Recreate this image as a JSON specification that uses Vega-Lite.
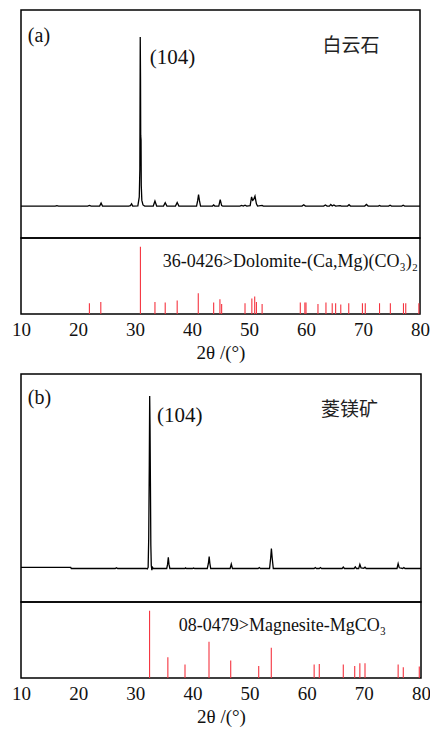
{
  "$schema": "https://vega.github.io/schema/vega-lite/v6.json",
  "background": "white",
  "padding": {"left": 10, "top": 9, "right": 4, "bottom": 0},
  "config": {
    "font": "Liberation Serif, DejaVu Serif, serif",
    "view": {"stroke": "#000", "strokeWidth": 1.5},
    "axis": {"grid": false, "ticks": false, "domain": false, "labelFlush": false, "labelFont": "Liberation Serif, DejaVu Serif, serif", "labelFontSize": 19, "labelColor": "#111", "titleFont": "Liberation Serif, DejaVu Serif, serif", "titleFontSize": 19, "titleFontWeight": "normal", "titleColor": "#111", "labelPadding": 6, "titlePadding": 4}
  },
  "datasets": {
    "xrdA": [
      {"theta": 10, "I": 140}, {"theta": 16.0, "I": 140}, {"theta": 16.3, "I": 142}, {"theta": 16.6, "I": 140},
      {"theta": 21.7, "I": 140}, {"theta": 22.0, "I": 143}, {"theta": 22.3, "I": 140},
      {"theta": 23.8, "I": 140}, {"theta": 24.05, "I": 153}, {"theta": 24.3, "I": 140},
      {"theta": 28.9, "I": 140}, {"theta": 29.2, "I": 142}, {"theta": 29.4, "I": 150}, {"theta": 29.6, "I": 140},
      {"theta": 30.5, "I": 141}, {"theta": 30.75, "I": 180}, {"theta": 30.85, "I": 300}, {"theta": 30.92, "I": 882},
      {"theta": 30.97, "I": 700}, {"theta": 31.0, "I": 450}, {"theta": 31.06, "I": 430}, {"theta": 31.1, "I": 230},
      {"theta": 31.2, "I": 165}, {"theta": 31.4, "I": 145}, {"theta": 31.7, "I": 140},
      {"theta": 33.2, "I": 140}, {"theta": 33.5, "I": 162}, {"theta": 33.8, "I": 140},
      {"theta": 35.0, "I": 140}, {"theta": 35.3, "I": 155}, {"theta": 35.6, "I": 140},
      {"theta": 37.1, "I": 140}, {"theta": 37.4, "I": 156}, {"theta": 37.7, "I": 140},
      {"theta": 40.8, "I": 140}, {"theta": 41.0, "I": 165}, {"theta": 41.15, "I": 190}, {"theta": 41.3, "I": 165}, {"theta": 41.5, "I": 140},
      {"theta": 43.6, "I": 140}, {"theta": 43.8, "I": 145}, {"theta": 44.0, "I": 140},
      {"theta": 44.7, "I": 140}, {"theta": 44.95, "I": 168}, {"theta": 45.2, "I": 142}, {"theta": 45.4, "I": 140},
      {"theta": 48.4, "I": 140}, {"theta": 48.7, "I": 143}, {"theta": 49.0, "I": 140}, {"theta": 49.3, "I": 144}, {"theta": 49.6, "I": 140},
      {"theta": 50.2, "I": 142}, {"theta": 50.45, "I": 180}, {"theta": 50.65, "I": 165}, {"theta": 50.8, "I": 168},
      {"theta": 51.05, "I": 184}, {"theta": 51.3, "I": 150}, {"theta": 51.5, "I": 140},
      {"theta": 52.3, "I": 143}, {"theta": 52.5, "I": 140},
      {"theta": 59.3, "I": 140}, {"theta": 59.6, "I": 146}, {"theta": 59.9, "I": 140},
      {"theta": 63.1, "I": 140}, {"theta": 63.4, "I": 145}, {"theta": 63.7, "I": 140},
      {"theta": 64.1, "I": 140}, {"theta": 64.35, "I": 147}, {"theta": 64.6, "I": 141}, {"theta": 64.9, "I": 145}, {"theta": 65.2, "I": 140},
      {"theta": 66.0, "I": 142}, {"theta": 66.2, "I": 140},
      {"theta": 67.3, "I": 140}, {"theta": 67.55, "I": 146}, {"theta": 67.8, "I": 140},
      {"theta": 70.3, "I": 140}, {"theta": 70.6, "I": 147}, {"theta": 70.9, "I": 140},
      {"theta": 72.7, "I": 140}, {"theta": 72.9, "I": 143}, {"theta": 73.1, "I": 140},
      {"theta": 74.5, "I": 140}, {"theta": 74.75, "I": 144}, {"theta": 75.0, "I": 140},
      {"theta": 76.8, "I": 140}, {"theta": 77.05, "I": 144}, {"theta": 77.3, "I": 140},
      {"theta": 80, "I": 140}
    ],
    "xrdB": [
      {"theta": 10, "I": 152}, {"theta": 18.7, "I": 152}, {"theta": 18.8, "I": 147},
      {"theta": 26.5, "I": 147}, {"theta": 26.7, "I": 150}, {"theta": 26.9, "I": 147},
      {"theta": 31.9, "I": 147}, {"theta": 32.1, "I": 145}, {"theta": 32.25, "I": 152}, {"theta": 32.35, "I": 280},
      {"theta": 32.45, "I": 600}, {"theta": 32.52, "I": 904}, {"theta": 32.58, "I": 780}, {"theta": 32.65, "I": 520},
      {"theta": 32.72, "I": 250}, {"theta": 32.8, "I": 160}, {"theta": 32.9, "I": 140}, {"theta": 33.0, "I": 152}, {"theta": 33.15, "I": 147},
      {"theta": 35.5, "I": 147}, {"theta": 35.65, "I": 165}, {"theta": 35.78, "I": 196}, {"theta": 35.9, "I": 165}, {"theta": 36.05, "I": 147},
      {"theta": 38.7, "I": 147}, {"theta": 38.8, "I": 150}, {"theta": 38.95, "I": 147},
      {"theta": 40.0, "I": 147}, {"theta": 40.2, "I": 149}, {"theta": 40.4, "I": 147},
      {"theta": 42.6, "I": 147}, {"theta": 42.8, "I": 170}, {"theta": 42.93, "I": 199}, {"theta": 43.05, "I": 170}, {"theta": 43.2, "I": 147},
      {"theta": 46.6, "I": 147}, {"theta": 46.8, "I": 166}, {"theta": 47.0, "I": 147},
      {"theta": 51.5, "I": 147}, {"theta": 51.7, "I": 151}, {"theta": 51.9, "I": 147},
      {"theta": 53.5, "I": 147}, {"theta": 53.7, "I": 195}, {"theta": 53.82, "I": 234}, {"theta": 53.95, "I": 195}, {"theta": 54.15, "I": 147},
      {"theta": 61.3, "I": 147}, {"theta": 61.5, "I": 151}, {"theta": 61.7, "I": 147},
      {"theta": 62.2, "I": 147}, {"theta": 62.4, "I": 151}, {"theta": 62.6, "I": 147},
      {"theta": 66.2, "I": 147}, {"theta": 66.4, "I": 153}, {"theta": 66.6, "I": 147},
      {"theta": 68.3, "I": 147}, {"theta": 68.5, "I": 154}, {"theta": 68.7, "I": 147},
      {"theta": 69.1, "I": 147}, {"theta": 69.3, "I": 165}, {"theta": 69.5, "I": 150},
      {"theta": 70.0, "I": 148}, {"theta": 70.2, "I": 153}, {"theta": 70.4, "I": 147},
      {"theta": 75.8, "I": 147}, {"theta": 76.0, "I": 168}, {"theta": 76.2, "I": 150},
      {"theta": 76.8, "I": 147}, {"theta": 77.0, "I": 151}, {"theta": 77.2, "I": 147},
      {"theta": 80, "I": 147}
    ],
    "stickA": [
      {"theta": 22.0, "rel": 16}, {"theta": 24.0, "rel": 18}, {"theta": 30.95, "rel": 100}, {"theta": 33.5, "rel": 18},
      {"theta": 35.3, "rel": 17}, {"theta": 37.4, "rel": 20}, {"theta": 41.1, "rel": 31}, {"theta": 43.8, "rel": 17},
      {"theta": 44.9, "rel": 22}, {"theta": 45.2, "rel": 15}, {"theta": 49.3, "rel": 16}, {"theta": 50.5, "rel": 23},
      {"theta": 51.0, "rel": 26}, {"theta": 51.3, "rel": 18}, {"theta": 52.3, "rel": 15}, {"theta": 59.0, "rel": 17},
      {"theta": 59.8, "rel": 17}, {"theta": 60.0, "rel": 17}, {"theta": 62.1, "rel": 15}, {"theta": 63.5, "rel": 17},
      {"theta": 64.6, "rel": 16}, {"theta": 65.2, "rel": 16}, {"theta": 66.1, "rel": 14}, {"theta": 67.5, "rel": 16},
      {"theta": 69.9, "rel": 16}, {"theta": 70.4, "rel": 16}, {"theta": 72.9, "rel": 16}, {"theta": 74.8, "rel": 16},
      {"theta": 77.1, "rel": 16}, {"theta": 77.5, "rel": 16}, {"theta": 79.8, "rel": 16}
    ],
    "stickB": [
      {"theta": 32.5, "rel": 100}, {"theta": 35.7, "rel": 31}, {"theta": 38.7, "rel": 20}, {"theta": 42.9, "rel": 54},
      {"theta": 46.7, "rel": 26}, {"theta": 51.6, "rel": 18}, {"theta": 53.8, "rel": 45}, {"theta": 61.3, "rel": 20},
      {"theta": 62.2, "rel": 21}, {"theta": 66.4, "rel": 20}, {"theta": 68.4, "rel": 18}, {"theta": 69.3, "rel": 22},
      {"theta": 70.2, "rel": 22}, {"theta": 76.0, "rel": 20}, {"theta": 76.9, "rel": 16}, {"theta": 79.7, "rel": 17}
    ]
  },
  "spacing": 10,
  "vconcat": [
    {
      "spacing": 0,
      "bounds": "flush",
      "vconcat": [
        {
          "width": 399,
          "height": 228,
          "layer": [
            {
              "data": {"name": "xrdA"},
              "mark": {"type": "line", "color": "#000", "strokeWidth": 1.3, "clip": true},
              "encoding": {
                "x": {"field": "theta", "type": "quantitative", "scale": {"domain": [10, 80], "nice": false}, "axis": null},
                "y": {"field": "I", "type": "quantitative", "scale": {"domain": [0, 1000], "nice": false}, "axis": null}
              }
            },
            {
              "data": {"values": [{"label": "(a)"}]},
              "mark": {"type": "text", "align": "left", "baseline": "alphabetic", "fontSize": 20, "color": "#111", "font": "Liberation Serif, DejaVu Serif, serif"},
              "encoding": {"x": {"datum": 11.2}, "y": {"datum": 860}, "text": {"field": "label"}}
            },
            {
              "data": {"values": [{"label": "(104)"}]},
              "mark": {"type": "text", "align": "left", "baseline": "alphabetic", "fontSize": 21, "color": "#111", "font": "Liberation Serif, DejaVu Serif, serif"},
              "encoding": {"x": {"datum": 32.6}, "y": {"datum": 763}, "text": {"field": "label"}}
            },
            {
              "data": {"values": [{"label": "白云石"}]},
              "mark": {"type": "text", "align": "center", "baseline": "middle", "fontSize": 19, "color": "#222", "font": "Noto Sans CJK SC"},
              "encoding": {"x": {"datum": 67.9}, "y": {"datum": 842}, "text": {"field": "label"}}
            }
          ]
        },
        {
          "width": 399,
          "height": 76,
          "layer": [
            {
              "data": {"name": "stickA"},
              "mark": {"type": "rule", "color": "#f5333f", "strokeWidth": 1.1},
              "encoding": {
                "x": {"field": "theta", "type": "quantitative", "scale": {"domain": [10, 80], "nice": false},
                      "axis": {"values": [10, 20, 30, 40, 50, 60, 70, 80], "title": "2θ /(°)"}},
                "y": {"field": "rel", "type": "quantitative", "scale": {"domain": [0, 113], "nice": false}, "axis": null},
                "y2": {"datum": 0}
              }
            },
            {
              "data": {"values": [{"label": "36-0426>Dolomite-(Ca,Mg)(CO₃)₂"}]},
              "mark": {"type": "text", "align": "right", "baseline": "alphabetic", "fontSize": 18, "color": "#111", "font": "Liberation Serif, DejaVu Serif, serif"},
              "encoding": {"x": {"datum": 79.65}, "y": {"datum": 69.9}, "text": {"field": "label"}}
            }
          ]
        }
      ]
    },
    {
      "spacing": 0,
      "bounds": "flush",
      "vconcat": [
        {
          "width": 400,
          "height": 228,
          "layer": [
            {
              "data": {"name": "xrdB"},
              "mark": {"type": "line", "color": "#000", "strokeWidth": 1.3, "clip": true},
              "encoding": {
                "x": {"field": "theta", "type": "quantitative", "scale": {"domain": [10, 80], "nice": false}, "axis": null},
                "y": {"field": "I", "type": "quantitative", "scale": {"domain": [0, 1000], "nice": false}, "axis": null}
              }
            },
            {
              "data": {"values": [{"label": "(b)"}]},
              "mark": {"type": "text", "align": "left", "baseline": "alphabetic", "fontSize": 20, "color": "#111", "font": "Liberation Serif, DejaVu Serif, serif"},
              "encoding": {"x": {"datum": 11.2}, "y": {"datum": 868}, "text": {"field": "label"}}
            },
            {
              "data": {"values": [{"label": "(104)"}]},
              "mark": {"type": "text", "align": "left", "baseline": "alphabetic", "fontSize": 21, "color": "#111", "font": "Liberation Serif, DejaVu Serif, serif"},
              "encoding": {"x": {"datum": 33.8}, "y": {"datum": 789}, "text": {"field": "label"}}
            },
            {
              "data": {"values": [{"label": "菱镁矿"}]},
              "mark": {"type": "text", "align": "center", "baseline": "middle", "fontSize": 19, "color": "#222", "font": "Noto Sans CJK SC"},
              "encoding": {"x": {"datum": 67.5}, "y": {"datum": 843}, "text": {"field": "label"}}
            }
          ]
        },
        {
          "width": 400,
          "height": 76,
          "layer": [
            {
              "data": {"name": "stickB"},
              "mark": {"type": "rule", "color": "#f5333f", "strokeWidth": 1.1},
              "encoding": {
                "x": {"field": "theta", "type": "quantitative", "scale": {"domain": [10, 80], "nice": false},
                      "axis": {"values": [10, 20, 30, 40, 50, 60, 70, 80], "title": "2θ /(°)"}},
                "y": {"field": "rel", "type": "quantitative", "scale": {"domain": [0, 113], "nice": false}, "axis": null},
                "y2": {"datum": 0}
              }
            },
            {
              "data": {"values": [{"label": "08-0479>Magnesite-MgCO₃"}]},
              "mark": {"type": "text", "align": "right", "baseline": "alphabetic", "fontSize": 18, "color": "#111", "font": "Liberation Serif, DejaVu Serif, serif"},
              "encoding": {"x": {"datum": 73.9}, "y": {"datum": 70.3}, "text": {"field": "label"}}
            }
          ]
        }
      ]
    }
  ]
}
